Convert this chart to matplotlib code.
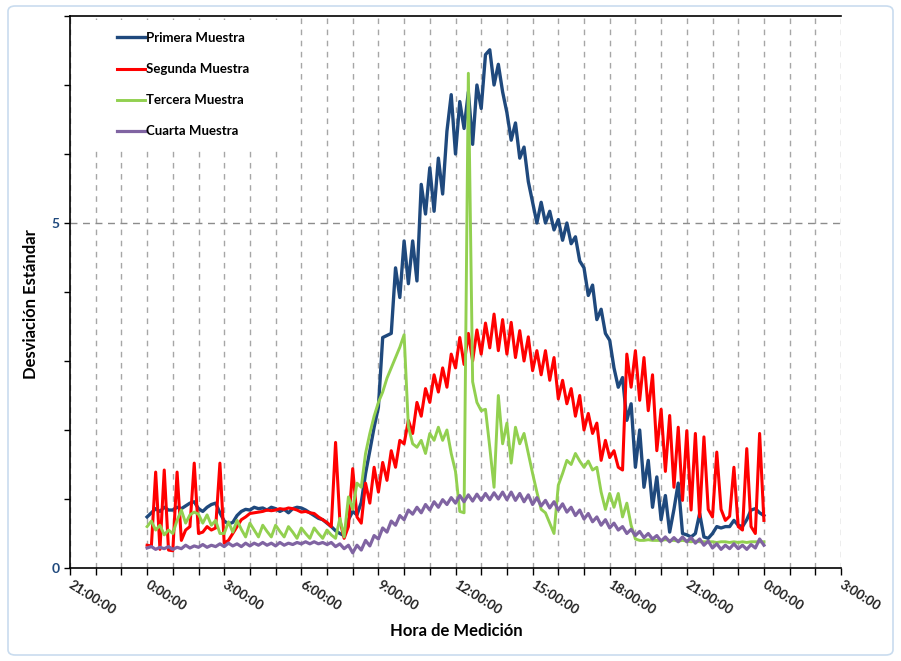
import numpy as np
import matplotlib
matplotlib.use("Agg")
import matplotlib.pyplot as plt
from matplotlib.patches import Rectangle, FancyBboxPatch
from matplotlib.ticker import MultipleLocator, FixedLocator

plt.rcParams['font.family'] = ['Lato', 'DejaVu Sans']

# ---- data: one value every 10 minutes from 0:00 to 24:00 (145 values) ----
series_names = ["Primera Muestra", "Segunda Muestra", "Tercera Muestra", "Cuarta Muestra"]

primera = [
    0.74, 0.80, 0.86, 0.82, 0.88, 0.84,
    0.84, 0.88, 0.86, 0.90, 0.94, 0.96,
    0.86, 0.82, 0.88, 0.92, 0.94, 0.80,
    0.68, 0.64, 0.66, 0.76, 0.82, 0.85,
    0.84, 0.88, 0.86, 0.87, 0.84, 0.88,
    0.86, 0.82, 0.85, 0.80, 0.86, 0.88,
    0.87, 0.84, 0.80, 0.76, 0.72, 0.70,
    0.65, 0.60, 0.54, 0.50, 0.47, 0.70,
    0.82, 0.77, 0.95, 1.37, 1.70, 2.04,
    2.33, 3.34, 3.37, 3.40, 4.35, 3.92,
    4.74, 4.12, 4.74, 4.16, 5.56, 5.13,
    5.80, 5.17, 5.94, 5.42, 6.33, 6.86,
    6.00, 6.76, 6.37, 6.90, 6.14, 7.00,
    6.66, 7.44, 7.51, 7.00, 7.30, 6.90,
    6.60, 6.20, 6.45, 5.94, 6.10, 5.60,
    5.30, 5.00, 5.30, 5.00, 5.17, 4.90,
    5.05, 4.75, 5.00, 4.70, 4.80, 4.45,
    4.35, 3.95, 4.10, 3.60, 3.75, 3.40,
    3.30, 2.90, 2.62, 2.76, 2.14, 2.38,
    1.46, 2.00, 1.17, 1.56, 0.88, 1.32,
    0.70, 1.05, 0.52, 0.85, 1.23, 0.50,
    0.48, 0.45, 0.50, 0.79, 0.45, 0.43,
    0.50, 0.60, 0.58, 0.60, 0.60, 0.69,
    0.62, 0.60, 0.70, 0.84, 0.86, 0.80,
    0.76,
]

segunda = [
    0.33, 0.32, 1.39, 0.27, 1.42, 0.26,
    0.25, 1.39, 0.40, 0.55, 0.60, 1.52,
    0.50, 0.52, 0.60, 0.55, 0.58, 1.52,
    0.36, 0.40, 0.50, 0.60, 0.70, 0.74,
    0.79, 0.80, 0.81, 0.82, 0.84, 0.83,
    0.84, 0.86, 0.85, 0.87, 0.86, 0.84,
    0.81, 0.82, 0.80, 0.79, 0.74, 0.70,
    0.66, 0.60, 1.82, 0.69, 0.43, 0.60,
    1.44, 0.74, 0.65, 1.23, 0.94, 1.46,
    1.10, 1.53, 1.27, 1.70, 1.46, 1.85,
    1.80, 2.14, 1.95, 2.40, 2.20, 2.60,
    2.40, 2.80, 2.55, 2.90, 2.62, 3.10,
    2.90, 3.34, 2.95, 3.40, 3.00, 3.45,
    3.10, 3.55, 3.19, 3.68, 3.15, 3.60,
    3.10, 3.56, 3.05, 3.44, 3.00, 3.35,
    2.86, 3.15, 2.80, 3.15, 2.72, 3.05,
    2.45, 2.72, 2.38, 2.60, 2.20, 2.50,
    2.00, 2.24, 1.95, 2.10, 1.56, 1.85,
    1.60, 1.70, 1.46, 1.42, 3.10, 2.62,
    3.15, 2.43, 3.05, 2.28, 2.80, 1.70,
    2.30, 1.40, 2.21, 1.17, 2.04, 0.98,
    1.99, 0.84, 1.95, 0.74, 1.90, 0.85,
    0.74, 1.68, 0.85, 0.69, 0.75, 1.46,
    0.60, 0.55, 1.73, 0.60, 0.50, 1.95,
    0.69,
]

tercera = [
    0.60, 0.68, 0.55, 0.62, 0.48, 0.55,
    0.50, 0.69, 0.84, 0.65, 0.77, 0.81,
    0.78, 0.65, 0.77, 0.62, 0.69, 0.50,
    0.50, 0.67, 0.52, 0.69, 0.56, 0.45,
    0.65, 0.55, 0.45, 0.62, 0.53, 0.45,
    0.62, 0.53, 0.45, 0.60, 0.52, 0.43,
    0.58, 0.50, 0.43, 0.58, 0.50, 0.43,
    0.55, 0.48, 0.43, 0.72, 0.45, 1.03,
    0.85, 1.23, 1.17, 1.66, 1.95, 2.20,
    2.40, 2.55, 2.75, 2.90, 3.05, 3.20,
    3.38, 2.05, 1.80, 1.75, 1.85, 1.66,
    1.95, 1.85, 2.04, 1.85, 2.00, 1.66,
    1.40, 0.82, 0.80, 7.17, 2.70, 2.40,
    2.28, 2.30, 1.75, 1.17, 2.50, 1.80,
    2.10, 1.52, 2.04, 1.80, 1.95, 1.66,
    1.37, 1.10, 0.85, 0.80, 0.65, 0.50,
    1.20, 1.37, 1.56, 1.50, 1.66, 1.55,
    1.46, 1.55, 1.42, 1.46, 1.10, 0.85,
    1.08, 0.88, 1.08, 0.74, 0.94, 0.62,
    0.42, 0.40, 0.40, 0.41, 0.40, 0.40,
    0.40, 0.41, 0.40, 0.40, 0.39, 0.40,
    0.39, 0.38, 0.39, 0.38, 0.38, 0.38,
    0.38, 0.37, 0.38, 0.38, 0.37, 0.38,
    0.37, 0.38, 0.37, 0.38, 0.38, 0.38,
    0.38,
]

cuarta = [
    0.29, 0.31, 0.27, 0.30, 0.28, 0.31,
    0.27, 0.30, 0.28, 0.33, 0.29, 0.32,
    0.30, 0.34, 0.30, 0.33, 0.31, 0.35,
    0.31, 0.36, 0.32, 0.35, 0.31, 0.36,
    0.32, 0.36, 0.33, 0.37, 0.33, 0.36,
    0.32, 0.37, 0.33, 0.36, 0.34, 0.37,
    0.35, 0.38, 0.35, 0.38, 0.35, 0.37,
    0.34, 0.37, 0.31, 0.35, 0.28, 0.33,
    0.22, 0.33, 0.26, 0.40, 0.32, 0.47,
    0.42, 0.58, 0.52, 0.68, 0.62, 0.76,
    0.70, 0.84, 0.78, 0.88, 0.80, 0.92,
    0.84, 0.96, 0.88, 0.99, 0.92, 1.02,
    0.94, 1.05, 0.96, 1.06, 0.97, 1.07,
    0.98, 1.08, 0.99, 1.09, 1.00, 1.10,
    0.99, 1.10, 0.98, 1.08, 0.96, 1.06,
    0.92, 1.02, 0.90, 0.98, 0.87, 0.96,
    0.84, 0.93, 0.81, 0.88, 0.76, 0.84,
    0.71, 0.79, 0.67, 0.74, 0.62, 0.70,
    0.58, 0.65, 0.55, 0.60, 0.50, 0.56,
    0.47, 0.53, 0.44, 0.50, 0.42, 0.47,
    0.39, 0.45, 0.38, 0.44, 0.38, 0.45,
    0.38, 0.44, 0.36, 0.42, 0.33, 0.39,
    0.29, 0.35, 0.27, 0.33, 0.28, 0.35,
    0.28, 0.33, 0.27, 0.34, 0.29, 0.42,
    0.33,
]

hours = np.arange(len(primera)) / 6.0   # 10-minute sampling, hours after 0:00

tick_hours = [-3, 0, 3, 6, 9, 12, 15, 18, 21, 24, 27]
tick_labels = ["21:00:00", "0:00:00", "3:00:00", "6:00:00", "9:00:00", "12:00:00",
               "15:00:00", "18:00:00", "21:00:00", "0:00:00", "3:00:00"]

colors = ["#1F497D", "#FF0000", "#92D050", "#8064A2"]
widths = [2.4, 2.2, 2.1, 2.3]

# ---- figure ----
fig = plt.figure(figsize=(9.01, 6.61), dpi=100)
W, H = 901, 661
ax = fig.add_axes([70 / W, 1 - 568 / H, (841 - 70) / W, (568 - 16) / H])

for vals, name, c, lw in zip([primera, segunda, tercera, cuarta], series_names, colors, widths):
    ax.plot(hours, vals, color=c, lw=lw, label=name, zorder=3, solid_joinstyle='round')

ax.set_xlim(-3, 27)
ax.set_ylim(0, 8)

ax.xaxis.set_major_locator(FixedLocator(tick_hours))
ax.xaxis.set_minor_locator(MultipleLocator(1))
ax.set_xticklabels(tick_labels)
ax.yaxis.set_major_locator(FixedLocator([0, 5]))
ax.yaxis.set_minor_locator(MultipleLocator(1))

ax.tick_params(axis='x', which='both', direction='out', length=5, width=1, color='black')
ax.tick_params(axis='y', which='both', direction='out', length=4, width=1, color='black')
for lab in ax.get_xticklabels():
    lab.set_rotation(-32)
    lab.set_rotation_mode('anchor')
    lab.set_ha('left')
    lab.set_va('center')
    lab.set_fontsize(9.5)
    lab.set_fontweight('bold')
    lab.set_color('#222222')
for lab in ax.get_yticklabels():
    lab.set_fontsize(10)
    lab.set_fontweight('bold')
    lab.set_color('#1F497D')
ax.tick_params(axis='x', pad=6)

# gridlines
ax.set_axisbelow(True)
ax.grid(True, axis='x', which='minor', linestyle=(0, (4, 4)), color='#A6A6A6', lw=1.0)
ax.grid(True, axis='x', which='major', linestyle=(0, (4, 4)), color='#A6A6A6', lw=1.0)
ax.axhline(5, linestyle=(0, (5, 4)), color='#8C8C8C', lw=1.0, zorder=0.6)

for s in ['left', 'bottom', 'top']:
    ax.spines[s].set_color('black')
    ax.spines[s].set_linewidth(1.2)
ax.spines['right'].set_visible(False)

# legend background box
ax.add_patch(Rectangle((0.004, 0.757), 0.29, 0.236, transform=ax.transAxes,
                       facecolor='white', edgecolor='none', zorder=1))

leg = fig.legend(loc='upper left', bbox_to_anchor=(117 / W, 1 - 32 / H), frameon=False,
                 prop={'weight': 'bold', 'size': 9.5}, handlelength=2.1, handletextpad=0.1,
                 labelspacing=1.45, borderpad=0, borderaxespad=0)

ax.set_xlabel("Hora de Medición", fontsize=12, fontweight='bold')
ax.set_ylabel("Desviación Estándar", fontsize=12, fontweight='bold')
ax.xaxis.set_label_coords((456 - 70) / 771, -(623 - 568) / 552)
ax.yaxis.set_label_coords(-(70 - 39) / 771, (568 - 304) / 552)

# outer light border
fig.patches.append(FancyBboxPatch((8 / W, 6 / H), 1 - 16 / W, 1 - 12 / H,
                                  boxstyle='round,pad=0,rounding_size=0.008',
                                  transform=fig.transFigure, fill=False,
                                  edgecolor='#C9DCEF', lw=1.2))

fig.savefig("out.png", dpi=100)
